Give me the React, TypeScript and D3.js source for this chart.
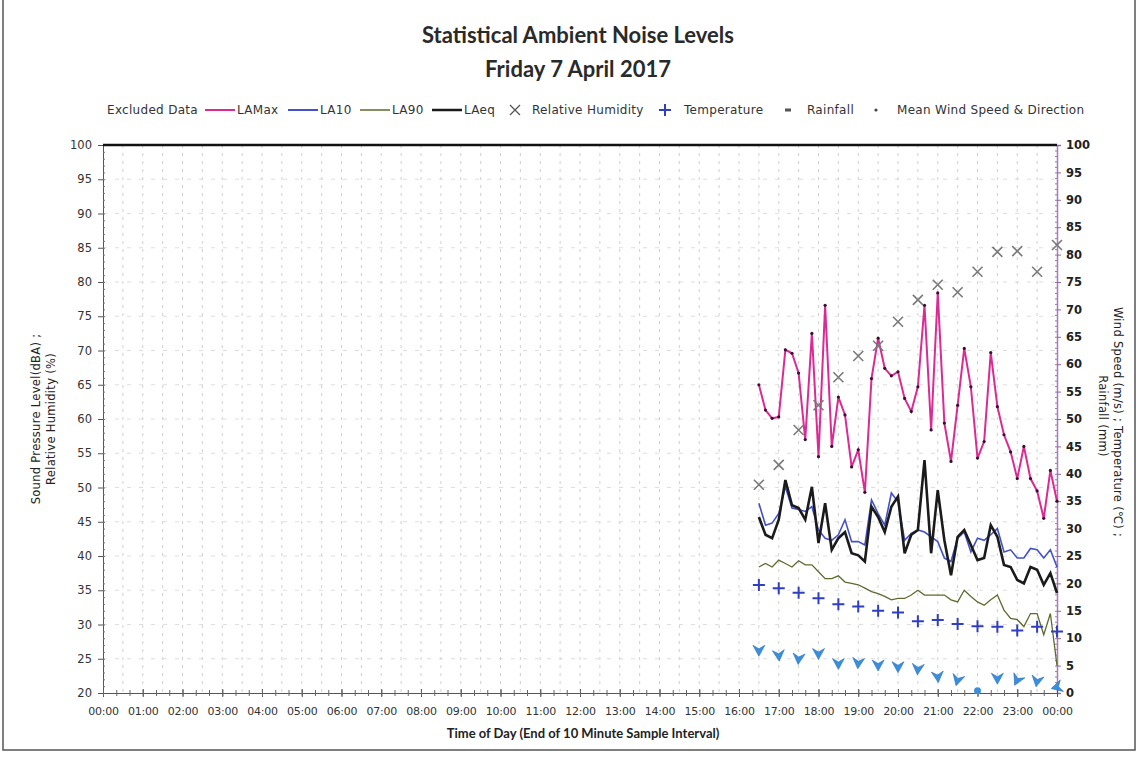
import React, { useEffect, useRef } from "react";
import * as d3 from "d3";

// 10-minute sample end times, 16:30 through midnight
const times10 = [
  "16:30", "16:40", "16:50", "17:00", "17:10", "17:20", "17:30", "17:40", "17:50", "18:00",
  "18:10", "18:20", "18:30", "18:40", "18:50", "19:00", "19:10", "19:20", "19:30", "19:40",
  "19:50", "20:00", "20:10", "20:20", "20:30", "20:40", "20:50", "21:00", "21:10", "21:20",
  "21:30", "21:40", "21:50", "22:00", "22:10", "22:20", "22:30", "22:40", "22:50", "23:00",
  "23:10", "23:20", "23:30", "23:40", "23:50", "00:00",
];

const laMax = [
  65.0, 61.3, 60.1, 60.3, 70.1, 69.6, 66.7, 57.0, 72.5, 54.5,
  76.6, 56.0, 63.2, 60.6, 53.0, 55.5, 49.3, 65.9, 71.8, 67.4,
  66.3, 66.9, 63.0, 61.1, 64.7, 76.6, 58.4, 78.4, 59.4, 53.8,
  62.0, 70.3, 64.7, 54.3, 56.7, 69.7, 61.8, 57.7, 55.2, 51.3,
  56.0, 51.3, 49.5, 45.5, 52.5, 48.0,
];
const la10 = [
  47.7, 44.5, 44.8, 46.2, 50.1, 47.0, 46.8, 46.5, 47.2, 43.8,
  42.6, 42.3, 43.1, 45.3, 42.1, 42.1, 41.6, 48.2, 46.2, 44.5,
  49.2, 47.9, 42.3, 43.3, 43.8, 43.5, 42.8, 42.1, 39.7, 39.2,
  42.6, 43.5, 40.6, 42.6, 42.3, 43.1, 44.0, 40.6, 40.9, 39.7,
  39.7, 41.1, 40.9, 39.7, 40.9, 38.4,
];
const la90 = [
  38.4, 38.9, 38.4, 39.4, 38.9, 38.4, 39.3, 38.7, 38.7, 37.7,
  36.7, 36.7, 37.1, 36.2, 36.0, 35.8, 35.3, 34.8, 34.5, 34.1,
  33.6, 33.8, 33.8, 34.3, 35.0, 34.3, 34.3, 34.3, 34.3, 33.6,
  33.3, 35.0, 34.1, 33.3, 32.8, 33.6, 34.3, 32.1, 30.9, 30.7,
  29.7, 31.6, 31.6, 28.5, 31.6, 24.0,
];
const laEq = [
  45.7, 43.1, 42.6, 45.3, 51.1, 47.4, 47.0, 45.3, 50.1, 41.9,
  47.7, 40.9, 42.6, 43.5, 40.4, 40.1, 39.2, 47.2, 45.7, 43.5,
  47.2, 48.7, 40.4, 43.1, 43.8, 54.0, 40.4, 49.6, 42.3, 37.2,
  42.8, 43.8, 41.6, 39.4, 39.7, 44.5, 42.8, 38.7, 38.4, 36.5,
  36.0, 38.4, 38.0, 35.8, 37.5, 34.6,
];

// Half-hourly weather readings
const times30 = [
  "16:30", "17:00", "17:30", "18:00", "18:30", "19:00", "19:30", "20:00",
  "20:30", "21:00", "21:30", "22:00", "22:30", "23:00", "23:30", "00:00",
];
const humidity = [50.4, 53.3, 58.4, 62.0, 66.1, 69.2, 70.7, 74.2, 77.4, 79.6, 78.5, 81.5, 84.4, 84.5, 81.5, 85.4];
const temperature = [19.7, 19.1, 18.3, 17.3, 16.2, 15.8, 15.0, 14.7, 13.1, 13.3, 12.6, 12.2, 12.1, 11.4, 12.1, 11.2];
const windSpeed = [7.8, 6.9, 6.3, 7.2, 5.4, 5.5, 5.1, 4.8, 4.4, 3.0, 2.4, 0.4, 2.7, 2.4, 2.2, 1.1];
// Direction the arrow points (degrees clockwise from up); null = calm
const windArrow: (number | null)[] = [180, 175, 185, 180, 180, 185, 180, 180, 185, 175, 195, null, 180, 205, 190, 255];

const hourLabels = [
  "00:00", "01:00", "02:00", "03:00", "04:00", "05:00", "06:00", "07:00", "08:00", "09:00",
  "10:00", "11:00", "12:00", "13:00", "14:00", "15:00", "16:00", "17:00", "18:00", "19:00",
  "20:00", "21:00", "22:00", "23:00", "00:00",
];
const leftTicks = [20, 25, 30, 35, 40, 45, 50, 55, 60, 65, 70, 75, 80, 85, 90, 95, 100];
const rightTicks = [0, 5, 10, 15, 20, 25, 30, 35, 40, 45, 50, 55, 60, 65, 70, 75, 80, 85, 90, 95, 100];

const W = 1139;
const H = 760;
const M = { left: 103, right: 1057, top: 145, bottom: 693 };

const COL = {
  laMax: "#dc2a93",
  la10: "#4352c9",
  la90: "#5d6b2e",
  laEq: "#1b1b1b",
  rh: "#7a7a7a",
  temp: "#2f3fbf",
  wind: "#3a8fdc",
  text: "#333",
};

// Convert "HH:MM" labels to decimal hours, wrapping past midnight
function toHours(list: string[]): number[] {
  const out: number[] = [];
  list.forEach((t, i) => {
    const [h, m] = t.split(":").map(Number);
    let v = h + m / 60;
    if (i > 0 && v < out[i - 1]) v += 24;
    out.push(v);
  });
  return out;
}

export default function App() {
  const ref = useRef<SVGSVGElement | null>(null);

  useEffect(() => {
    const svg = d3.select(ref.current);
    svg.selectAll("*").remove();

    const x = d3.scaleLinear().domain([0, 24]).range([M.left, M.right]);
    const yL = d3.scaleLinear().domain([20, 100]).range([M.bottom, M.top]);
    const yR = d3.scaleLinear().domain([0, 100]).range([M.bottom, M.top]);

    const h10 = toHours(times10);
    const h30 = toHours(times30);

    svg.append("rect").attr("width", W).attr("height", H).attr("fill", "#fff");

    // Outer frame
    svg.append("path")
      .attr("d", `M3,0 V750 H1135 V0`)
      .attr("fill", "none").attr("stroke", "#555").attr("stroke-width", 1.5);

    // Title
    const title = svg.append("g").attr("font-family", "Lato, 'Open Sans', sans-serif")
      .attr("font-weight", 700).attr("font-size", 22).attr("fill", "#2a2a2a").attr("text-anchor", "middle");
    title.append("text").attr("x", 578).attr("y", 43).text("Statistical Ambient Noise Levels");
    title.append("text").attr("x", 578).attr("y", 77).text("Friday 7 April 2017");

    // Grid
    const grid = svg.append("g").attr("stroke", "#c4c4c4").attr("stroke-width", 0.8).attr("stroke-dasharray", "3,5");
    d3.range(0, 24.01, 0.5).forEach((hh) => {
      if (hh === 0 || hh === 24) return;
      grid.append("line").attr("x1", x(hh)).attr("x2", x(hh)).attr("y1", M.top).attr("y2", M.bottom);
    });
    leftTicks.forEach((v) => {
      if (v === 20 || v === 100) return;
      grid.append("line").attr("x1", M.left).attr("x2", M.right).attr("y1", yL(v)).attr("y2", yL(v))
        .attr("stroke", "#d6d6d6").attr("stroke-dasharray", "4,8");
    });

    // Left axis
    const axL = svg.append("g").attr("transform", `translate(${M.left},0)`)
      .call(d3.axisLeft(yL).tickValues(leftTicks).tickSize(5).tickPadding(6));
    axL.select(".domain").attr("stroke", "#555");
    axL.selectAll(".tick line").attr("stroke", "#555");
    axL.selectAll("text").attr("font-family", "'DejaVu Sans', sans-serif").attr("font-size", 11.5).attr("fill", COL.text);
    svg.append("g").attr("transform", `translate(${M.left},0)`)
      .call(d3.axisRight(yL).tickValues(d3.range(20, 100.01, 1)).tickSize(2).tickFormat(() => ""))
      .call((g) => g.select(".domain").remove())
      .selectAll("line").attr("stroke", "#777");

    // Right axis
    const axR = svg.append("g").attr("transform", `translate(${M.right},0)`)
      .call(d3.axisRight(yR).tickValues(rightTicks).tickSize(4).tickPadding(5));
    axR.select(".domain").attr("stroke", "#a77bbf").attr("stroke-width", 1.5);
    axR.selectAll(".tick line").attr("stroke", "#8a6a9a");
    axR.selectAll("text").attr("font-family", "'DejaVu Sans', sans-serif").attr("font-weight", 700)
      .attr("font-size", 11.5).attr("fill", "#222");
    svg.append("g").attr("transform", `translate(${M.right},0)`)
      .call(d3.axisLeft(yR).tickValues(d3.range(0, 100.01, 1)).tickSize(2).tickFormat(() => ""))
      .call((g) => g.select(".domain").remove())
      .selectAll("line").attr("stroke", "#9a7aa8");

    // Bottom axis
    const axB = svg.append("g").attr("transform", `translate(0,${M.bottom})`)
      .call(d3.axisBottom(x).tickValues(d3.range(0, 25, 1)).tickSize(4).tickPadding(10)
        .tickFormat((_, i) => hourLabels[i]));
    axB.select(".domain").attr("stroke", "#555");
    axB.selectAll(".tick line").attr("stroke", "#555").attr("y1", -4);
    axB.selectAll("text").attr("font-family", "'DejaVu Sans', sans-serif").attr("font-size", 11)
      .attr("fill", COL.text).attr("letter-spacing", -0.2);
    svg.append("g").attr("transform", `translate(0,${M.bottom})`)
      .call(d3.axisBottom(x).tickValues(d3.range(0, 24, 1 / 3)).tickSize(3).tickFormat(() => ""))
      .call((g) => g.select(".domain").remove())
      .selectAll("line").attr("stroke", "#666").attr("y1", -3);

    // Thick top border of plot
    svg.append("line").attr("x1", M.left).attr("x2", M.right).attr("y1", M.top).attr("y2", M.top)
      .attr("stroke", "#111").attr("stroke-width", 2.5);

    // Axis titles
    const small = "'DejaVu Sans', sans-serif";
    const midY = (M.top + M.bottom) / 2;
    const axisTitle = (tx: number, ty: number, rot: number, t: string) =>
      svg.append("text").attr("transform", `translate(${tx},${ty}) rotate(${rot})`)
        .attr("text-anchor", "middle").attr("font-family", small).attr("font-size", 11.5)
        .attr("letter-spacing", 0.3).attr("fill", "#222").text(t);
    axisTitle(40, midY, -90, "Sound Pressure Level(dBA) ;");
    axisTitle(55, midY, -90, "Relative Humidity (%)");
    axisTitle(1114, midY + 3, 90, "Wind Speed (m/s) ; Temperature (℃) ;");
    axisTitle(1099, midY - 3, 90, "Rainfall (mm)");
    svg.append("text").attr("x", 583).attr("y", 738).attr("text-anchor", "middle")
      .attr("font-family", "Lato, sans-serif").attr("font-weight", 700).attr("font-size", 13).attr("fill", "#222")
      .text("Time of Day (End of 10 Minute Sample Interval)");

    // Plot layer
    const plot = svg.append("g");

    const lineL = (vals: number[]) =>
      d3.line<number>().x((_, i) => x(h10[i])).y((d) => yL(d))(vals) as string;

    plot.append("path").attr("d", lineL(la90)).attr("fill", "none").attr("stroke", COL.la90).attr("stroke-width", 1.3);
    plot.append("path").attr("d", lineL(laMax)).attr("fill", "none").attr("stroke", COL.laMax).attr("stroke-width", 2);
    plot.selectAll(".mx").data(laMax).enter().append("circle")
      .attr("cx", (_, i) => x(h10[i])).attr("cy", (d) => yL(d)).attr("r", 1.6).attr("fill", "#3a1030");
    plot.append("path").attr("d", lineL(la10)).attr("fill", "none").attr("stroke", COL.la10).attr("stroke-width", 1.6);
    plot.append("path").attr("d", lineL(laEq)).attr("fill", "none").attr("stroke", COL.laEq).attr("stroke-width", 2.6);

    // Relative humidity crosses
    plot.selectAll(".rh").data(humidity).enter().append("path")
      .attr("transform", (d, i) => `translate(${x(h30[i])},${yL(d)})`)
      .attr("d", "M-5,-5L5,5M-5,5L5,-5").attr("stroke", COL.rh).attr("stroke-width", 1.6).attr("fill", "none");

    // Temperature pluses
    plot.selectAll(".tp").data(temperature).enter().append("path")
      .attr("transform", (d, i) => `translate(${x(h30[i])},${yR(d)})`)
      .attr("d", "M-6,0H6M0,-6V6").attr("stroke", COL.temp).attr("stroke-width", 2).attr("fill", "none");

    // Wind speed & direction arrows
    windSpeed.forEach((v, i) => {
      const dir = windArrow[i];
      const g = plot.append("g").attr("transform", `translate(${x(h30[i])},${yR(v)})`);
      if (dir === null) {
        g.append("circle").attr("r", 3.5).attr("fill", COL.wind);
      } else {
        g.append("path").attr("transform", `rotate(${dir - 180})`)
          .attr("d", "M-6,-5 L0,-1.5 L6,-5 L0,6 Z").attr("fill", COL.wind)
          .attr("stroke", "#2a6fb8").attr("stroke-width", 0.6);
      }
    });

    // Legend
    const lg = svg.append("g").attr("font-family", small).attr("font-size", 12)
      .attr("letter-spacing", 0.3).attr("fill", "#333");
    const ly = 110;
    lg.append("text").attr("x", 107).attr("y", ly + 4).text("Excluded Data");
    const lineItems: [number, string, string, number][] = [
      [205, COL.laMax, "LAMax", 2],
      [288, COL.la10, "LA10", 2],
      [360, COL.la90, "LA90", 1.5],
      [432, COL.laEq, "LAeq", 2.5],
    ];
    lineItems.forEach(([lx, c, t, w]) => {
      lg.append("line").attr("x1", lx).attr("x2", lx + 30).attr("y1", ly).attr("y2", ly)
        .attr("stroke", c).attr("stroke-width", w);
      lg.append("text").attr("x", lx + 32).attr("y", ly + 4).text(t);
    });
    lg.append("path").attr("transform", `translate(515,${ly})`).attr("d", "M-5,-5L5,5M-5,5L5,-5")
      .attr("stroke", "#555").attr("stroke-width", 1.3);
    lg.append("text").attr("x", 532).attr("y", ly + 4).text("Relative Humidity");
    lg.append("path").attr("transform", `translate(665,${ly})`).attr("d", "M-6,0H6M0,-6V6")
      .attr("stroke", COL.temp).attr("stroke-width", 2);
    lg.append("text").attr("x", 684).attr("y", ly + 4).text("Temperature");
    lg.append("rect").attr("x", 785).attr("y", ly - 1.5).attr("width", 6).attr("height", 3).attr("fill", "#555");
    lg.append("text").attr("x", 807).attr("y", ly + 4).text("Rainfall");
    lg.append("circle").attr("cx", 876).attr("cy", ly).attr("r", 1.6).attr("fill", "#444");
    lg.append("text").attr("x", 897).attr("y", ly + 4).text("Mean Wind Speed & Direction");
  }, []);

  return (
    <svg
      ref={ref}
      width={W}
      height={H}
      style={{ position: "absolute", left: 0, top: 0, display: "block" }}
    />
  );
}
